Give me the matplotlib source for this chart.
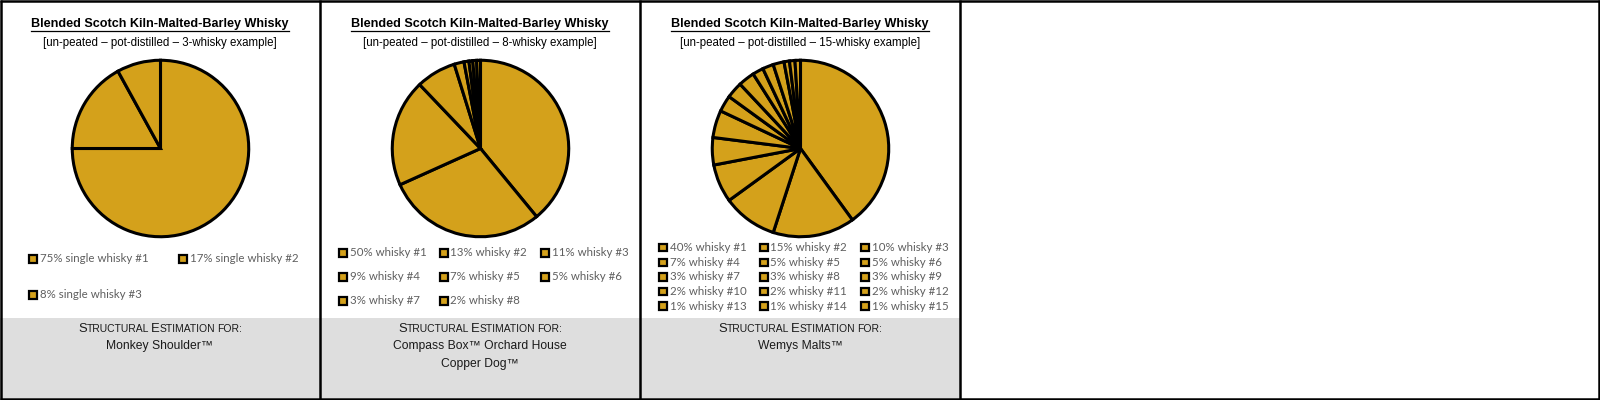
import matplotlib
matplotlib.use("Agg")
import matplotlib.pyplot as plt
from matplotlib.patches import Rectangle
from matplotlib import font_manager

# dados
titulo = "Blended Scotch Kiln-Malted-Barley Whisky"
subtitulos = [
    "[un-peated \u2013 pot-distilled \u2013 3-whisky example]",
    "[un-peated \u2013 pot-distilled \u2013 8-whisky example]",
    "[un-peated \u2013 pot-distilled \u2013 15-whisky example]",
]

pie1_vals = [75, 17, 8]
pie2_vals = [39.0, 29.2, 19.6, 7.3, 1.8, 0.9, 0.7, 0.7, 0.7]
pie3_vals = [40, 15, 10, 7, 5, 5, 3, 3, 3, 2, 2, 2, 1, 1, 1]

leg1 = ["75% single whisky #1", "17% single whisky #2", "8% single whisky #3"]
leg2 = ["50% whisky #1", "13% whisky #2", "11% whisky #3", "9% whisky #4",
        "7% whisky #5", "5% whisky #6", "3% whisky #7", "2% whisky #8"]
leg3 = ["40% whisky #1", "15% whisky #2", "10% whisky #3", "7% whisky #4",
        "5% whisky #5", "5% whisky #6", "3% whisky #7", "3% whisky #8",
        "3% whisky #9", "2% whisky #10", "2% whisky #11", "2% whisky #12",
        "1% whisky #13", "1% whisky #14", "1% whisky #15"]

cabecalho_faixa = "Structural Estimation for:"
marcas = [["Monkey Shoulder\u2122"],
          ["Compass Box\u2122 Orchard House", "Copper Dog\u2122"],
          ["Wemys Malts\u2122"]]

OURO = "#D4A11B"
CINZA = "#DEDEDE"
FONTE_LEG = ["Lato", "DejaVu Sans"]

# fonte estreita se existir, senão Liberation Sans um pouco menor
nomes = {f.name for f in font_manager.fontManager.ttflist}
if "Liberation Sans Narrow" in nomes:
    FONTE = ["Liberation Sans Narrow", "DejaVu Sans"]
    esc = 1.0
else:
    FONTE = ["Liberation Sans", "DejaVu Sans"]
    esc = 0.89

W, H = 1600, 400
fig = plt.figure(figsize=(16, 4), dpi=100)
bg = fig.add_axes([0, 0, 1, 1])
bg.set_xlim(0, W)
bg.set_ylim(H, 0)
bg.axis("off")

# layout de cada painel: (x0, colunas da legenda, linhas da legenda)
paineis = [
    (0, [33, 183], [259, 295], pie1_vals, leg1),
    (320, [23, 124, 225], [252.7, 277, 301], pie2_vals, leg2),
    (640, [23, 124, 225], [247.3, 262.3, 277, 291.3, 306], pie3_vals, leg3),
]

fig.canvas.draw()
renderer = fig.canvas.get_renderer()


def largura(txt, size):
    t = bg.text(0, 0, txt, fontsize=size, family=FONTE)
    bb = t.get_window_extent(renderer)
    t.remove()
    return bb.width


def versalete(xc, y, texto, big, small):
    # simula small caps desenhando pedaço por pedaço
    espaco = largura("A A", small) - largura("AA", small)
    pedacos = []
    for k, p in enumerate(texto.split(" ")):
        if k > 0:
            pedacos.append(("", small, espaco))
        if p[0].isupper():
            pedacos.append((p[0], big, largura(p[0], big)))
            pedacos.append((p[1:].upper(), small, largura(p[1:].upper(), small)))
        else:
            pedacos.append((p.upper(), small, largura(p.upper(), small)))
    x = xc - sum(w for _, _, w in pedacos) / 2
    for s, sz, w in pedacos:
        if s:
            bg.text(x, y, s, fontsize=sz, family=FONTE, ha="left", va="baseline",
                    color="#1a1a1a")
        x += w


for i, (x0, cols, rows, vals, labels) in enumerate(paineis):
    xc = x0 + 160

    # faixa cinza
    bg.add_patch(Rectangle((x0, 318), 320, 80, facecolor=CINZA, edgecolor="none"))

    # títulos
    t = bg.text(xc, 24, titulo, fontsize=10 * esc * 1.02, fontweight="bold",
                family=FONTE, ha="center", va="center", color="black")
    bb = t.get_window_extent(renderer)
    bg.plot([xc - bb.width / 2, xc + bb.width / 2], [30.5, 30.5], color="black", lw=0.9)
    bg.text(xc, 43, subtitulos[i], fontsize=9.6 * esc * 0.97, family=FONTE,
            ha="center", va="center", color="black")

    # pizza
    r, cy = 90, 148.5
    ax = fig.add_axes([(xc + 0.5 - r) / W, 1 - (cy + r) / H, 2 * r / W, 2 * r / H])
    ax.pie(vals, colors=[OURO] * len(vals), startangle=90, counterclock=False,
           wedgeprops=dict(edgecolor="black", linewidth=2.2, joinstyle="miter"))
    ax.set_xlim(-1.02, 1.02)
    ax.set_ylim(-1.02, 1.02)
    ax.axis("off")

    # legenda
    for j, lab in enumerate(labels):
        cx = x0 + cols[j % len(cols)]
        ry = rows[j // len(cols)]
        bg.add_patch(Rectangle((cx - 3.8, ry - 3.8), 7.6, 7.6, facecolor=OURO,
                               edgecolor="black", lw=1.6))
        bg.text(cx + 6.5, ry, lab, fontsize=8.3, family=FONTE_LEG, ha="left",
                va="center", color="#5f5f5f")

    # texto da faixa cinza
    versalete(xc, 331.5, cabecalho_faixa, 10.5 * esc, 8.4 * esc)
    for k, m in enumerate(marcas[i]):
        bg.text(xc, 345.5 + 18 * k, m, fontsize=10 * esc * 0.98, family=FONTE,
                ha="center", va="center", color="#1a1a1a")

# bordas
for xv in [1, 320, 640, 959.5, 1599]:
    bg.plot([xv, xv], [0, H], color="black", lw=1.8, solid_capstyle="butt")
for yv in [1, 398.5]:
    bg.plot([0, W], [yv, yv], color="black", lw=1.8, solid_capstyle="butt")

fig.savefig("out.png", dpi=100)
